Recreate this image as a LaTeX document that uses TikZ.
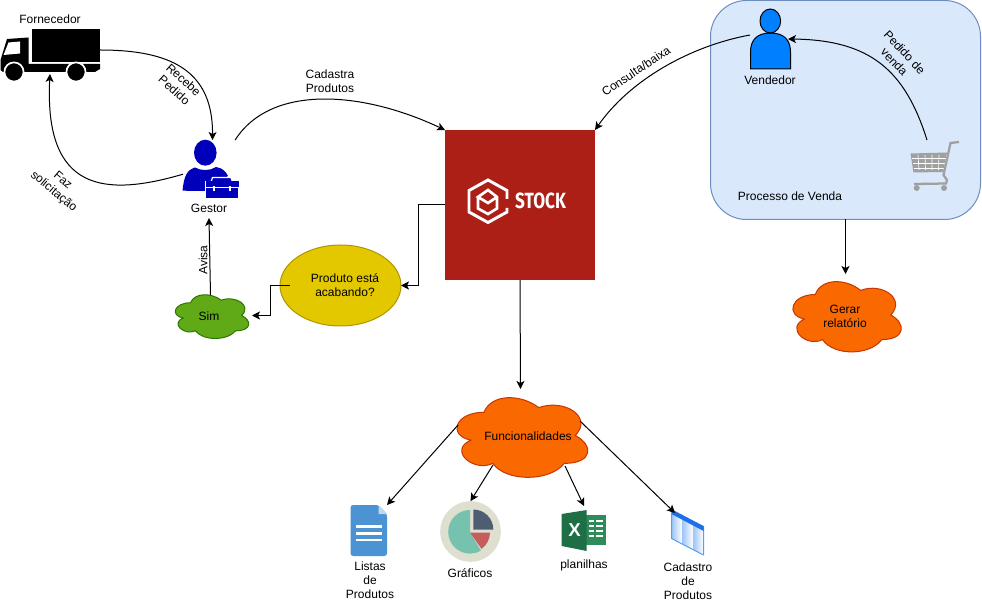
\documentclass[tikz,border=0pt]{standalone}
\usepackage{fontspec}
\setmainfont{Liberation Sans}
\newfontfamily\logofont{Fira Sans}
\usetikzlibrary{arrows.meta,shapes.geometric}

\definecolor{vendaFill}{HTML}{DAE8FC}
\definecolor{vendaLine}{HTML}{6C8EBF}
\definecolor{stockRed}{HTML}{AB1F16}
\definecolor{orangeFill}{HTML}{FA6800}
\definecolor{orangeLine}{HTML}{C73500}
\definecolor{greenFill}{HTML}{60A917}
\definecolor{greenLine}{HTML}{2D7600}
\definecolor{yellowFill}{HTML}{E3C800}
\definecolor{yellowLine}{HTML}{B09500}
\definecolor{gestorBlue}{HTML}{0000BB}
\definecolor{vendedorBlue}{HTML}{007FFF}
\definecolor{cartGray}{HTML}{A0A0A0}
\definecolor{docBlue}{HTML}{4B93D3}
\definecolor{xlDark}{HTML}{1E6F45}
\definecolor{xlLight}{HTML}{2E8B5A}
\definecolor{pieBack}{HTML}{DFDFD0}
\definecolor{pieTeal}{HTML}{76C2AF}
\definecolor{pieRed}{HTML}{C75C5C}
\definecolor{pieDark}{HTML}{4F5D73}
\definecolor{cadSide}{HTML}{9CC4F5}
\definecolor{cadLine}{HTML}{5C9CF0}
\definecolor{cadTop}{HTML}{1F6FE8}

\tikzset{
	spot/.style 2 args={minimum width=#1*0.75pt,minimum height=#2*0.75pt,inner sep=0pt,outer sep=0pt},
	txt/.style={inner sep=0pt,align=center,font=\fontsize{9}{10.5}\selectfont},
	flow/.style={->,>={Stealth[length=6pt,width=6pt,inset=1.5pt]},line width=0.75pt},
	orangeblob/.style={fill=orangeFill,draw=orangeLine,line width=0.75pt},
	greenblob/.style={fill=greenFill,draw=greenLine,line width=0.75pt}
}

% nome, x, y, largura, altura, estilo
\newcommand{\nuvem}[6]{
	\path[#6,shift={(#2,#3)},xscale=#4/100,yscale=#5/60] (25,15) .. controls (5,15) and (0,30) .. (16,33)
		.. controls (0,39.6) and (18,54) .. (31,48) .. controls (40,60) and (70,60) .. (80,48)
		.. controls (100,48) and (100,36) .. (87.5,30) .. controls (100,18) and (80,6) .. (62.5,12)
		.. controls (50,3) and (30,3) .. (25,15) -- cycle;
	\node[spot={#4}{#5}] (#1) at ({#2+#4/2},{#3+#5/2}) {};
}

\begin{document}
\begin{tikzpicture}[x=0.75pt,y=-0.75pt]
	\useasboundingbox (0,0) rectangle (982,602);
	% processo de venda
	\node[spot={270}{219},fill=vendaFill,draw=vendaLine,line width=0.75pt,rounded corners=27pt] (venda) at (845.5,110) {};
	\node[txt] (vendaTxt) at (790,196) {Processo de Venda};

	% caminhao
	\node[spot={100}{48}] (truck) at (50,50) {};
	\fill (32,29) rectangle (99.5,62);
	\fill (0.5,60) -- (7,39) -- (28.5,37.5) -- (28.5,64) -- (100,64) -- (100,69) -- (95,72) -- (3,72) -- (0.5,70) -- cycle;
	\fill[white] (3.5,55) -- (8.5,42.5) -- (20,41.5) -- (20,53.5) -- cycle;
	\draw[white,line width=1.3pt,fill=black] (14,72) circle (9.6);
	\draw[white,line width=1.3pt,fill=black] (76,72) circle (9.6);
	\node[txt] (truckTxt) at (50,19) {Fornecedor};

	% gestor
	\node[spot={59}{58}] (gestor) at (212.5,169) {};
	\fill[gestorBlue] (205.3,152.7) ellipse (11.3 and 13);
	\fill[gestorBlue] (182.5,190.7) .. controls (184,176) and (187,170) .. (195,167.5) .. controls (201,171) and (210,171) .. (216,167)
		.. controls (223,168) and (226,172) .. (228,176) -- (205,191) -- cycle;
	\draw[white,line width=0.9pt,fill=gestorBlue] (205.5,181.5) rectangle (239,198.5);
	\draw[white,line width=0.9pt,fill=gestorBlue] (211,182) -- (212.5,177.5) -- (231,177.5) -- (232.5,182) -- cycle;
	\fill[gestorBlue] (215,179.5) rectangle (229,182);
	\fill[gestorBlue] (206,181) rectangle (238.5,187);
	\fill[white] (206,187.5) rectangle (238.5,188.5);
	\fill[white] (213,186) rectangle (215,191);
	\fill[white] (229,186) rectangle (231,191);
	\node[txt] (gestorTxt) at (209,208) {Gestor};

	% stock
	\node[spot={150}{150},fill=stockRed] (stock) at (520,205) {};
	\draw[white,line width=2.2pt,line join=miter] (507,208) -- (507,212) -- (488,222.5) -- (469,212) -- (469,190.5) -- (488,180) -- (507,190.5) -- (507,199);
	\draw[white,line width=2pt,line join=miter] (478,197) -- (478,208.5) -- (488,214) -- (497,208.5) -- (497,197) -- (488,190) -- (478,197) -- (488,203) -- (497,197);
	\node[txt,white,font=\logofont\bfseries\fontsize{16.5}{18}\selectfont,xscale=0.78] (stockTxt) at (540.5,200.5) {STOCK};

	% vendedor
	\node[spot={41}{69}] (vendedor) at (770.5,35) {};
	\draw[fill=vendedorBlue,line width=0.75pt] (750.5,69) -- (750.5,52) .. controls (750.5,40) and (757,33) .. (770.5,33) .. controls (784,33) and (790.5,40) .. (790.5,52) -- (790.5,69) -- cycle;
	\draw[fill=vendedorBlue,line width=0.75pt] (770.3,21) ellipse (10.3 and 12);
	\node[txt] (vendedorTxt) at (770,80) {Vendedor};

	% carrinho
	\node[spot={50}{50}] (carrinho) at (927,165) {};
	\fill[cartGray] (910.5,153.5) -- (947,152.5) -- (943,172) -- (913.5,172.5) -- cycle;
	\draw[white,line width=0.5pt] (912,158) -- (945.5,158) (913,163) -- (944.5,163) (914,168) -- (943.5,168);
	\draw[white,line width=0.5pt] (918,155) -- (919,170) (925,155) -- (925.5,170) (932,155) -- (932,170) (939,155) -- (938.5,170);
	\draw[cartGray,line width=1.7pt] (959,142) -- (950.5,143) -- (943.5,175) -- (947,180) -- (946,183.5) -- (914,184);
	\fill[cartGray] (916.7,188) circle (3) (944,188) circle (3);

	% produto esta acabando
	\node[spot={121}{81},ellipse,fill=yellowFill,draw=yellowLine,line width=0.75pt] (produto) at (340.5,285.5) {};
	\node[txt] (produtoTxt) at (345,285.5) {Produto está\\acabando?};

	% nuvens
	\nuvem{sim}{170}{290}{82}{51}{greenblob}
	\node[txt] (simTxt) at (209,316) {Sim};
	\nuvem{funcoes}{447.5}{389}{146}{93}{orangeblob}
	\node[txt] (funcoesTxt) at (528,436) {Funcionalidades};
	\nuvem{gerar}{785}{274}{121}{82}{orangeblob}
	\node[txt] (gerarTxt) at (845,316) {Gerar\\relatório};

	% listas
	\node[spot={37}{51}] (listas) at (368.5,530.5) {};
	\fill[docBlue,rounded corners=2pt] (350.5,505) -- (378.5,505) -- (387,514) -- (387,556) -- (350.5,556) -- cycle;
	\fill[docBlue!35!white] (378.5,505) -- (387,514) -- (378.5,514) -- cycle;
	\draw[white,line width=2pt] (356,526.7) -- (381.7,526.7) (356,533.3) -- (381.7,533.3) (356,540) -- (381.7,540);
	\node[txt] (listasTxt) at (370,580.5) {Listas\\de\\Produtos};

	% graficos
	\node[spot={60.6}{60.6},circle,fill=pieBack] (graficos) at (470.5,531.5) {};
	\fill[pieTeal] (470,532) -- (470,510) arc[start angle=-90,end angle=-300,radius=21.8] -- cycle;
	\fill[pieRed] (470,532.5) -- (490,532.5) arc[start angle=0,end angle=55,radius=20] -- cycle;
	\fill[pieDark] (473.3,529.5) -- (473.3,509.5) arc[start angle=-90,end angle=0,radius=20] -- cycle;
	\node[txt] (graficosTxt) at (470,572.7) {Gráficos};

	% planilhas
	\node[spot={44}{46}] (planilhas) at (584,529) {};
	\fill[xlLight] (586,515) rectangle (606,545);
	\fill[xlDark] (561.7,514) -- (586.7,510) -- (586.7,551) -- (561.7,546) -- cycle;
	\draw[white,line width=1.4pt] (589,521) -- (594,521) (596,521) -- (603,521) (589,526) -- (594,526) (596,526) -- (603,526)
		(589,531) -- (594,531) (596,531) -- (603,531) (589,536) -- (594,536) (596,536) -- (603,536);
	\node[txt,white,font=\bfseries\fontsize{14}{14}\selectfont] (xlTxt) at (574.5,530) {X};
	\node[txt] (planilhasTxt) at (584,565) {planilhas};

	% cadastro
	\node[spot={33}{46}] (cadastro) at (688,533) {};
	\shade[left color=cadSide,right color=white] (671.5,512) -- (682,517.5) -- (682,544) -- (671.5,538.5) -- cycle;
	\shade[left color=cadSide,right color=white] (682,517.5) -- (693,523) -- (693,549.5) -- (682,544) -- cycle;
	\shade[left color=cadSide,right color=white] (693,523) -- (703.5,528) -- (703.5,555) -- (693,549.5) -- cycle;
	\draw[cadLine,line width=0.75pt,line join=round] (671.5,512) -- (671.5,538.5) -- (703.5,555) -- (703.5,526);
	\fill[cadTop] (673,510) -- (703.5,526) -- (703.5,531) -- (671.5,514) -- cycle;
	\node[txt] (cadastroTxt) at (688,581) {Cadastro\\de\\Produtos};

	% ligacoes
	\coordinate (produtoOut) at (290,285.5);
	\coordinate (funcoesL) at (458,425);
	\coordinate (funcoesG) at (493,465);
	\coordinate (funcoesP) at (565,466);
	\coordinate (funcoesC) at (580,421);
	\coordinate (cadastroIn) at (675,513);
	\coordinate (simOut) at (210.5,295);
	\coordinate (gestorIn) at (209,218);
	\coordinate (stockTurn) at (418,205);
	\coordinate (produtoTurn) at (270,315.5);
	\coordinate (vendedorIn) at (788,39);
	\draw[flow] (truck.east) .. controls (170,50) and (213,70) .. (gestor.north);
	\draw[flow] (gestor.190) .. controls (105,197) and (44,192) .. (truck.south);
	\draw[flow] (gestor.52) .. controls (270,85) and (360,90) .. (stock.north west);
	\draw[flow] (vendedor.west) .. controls (690,46) and (630,80) .. (stock.north east);
	\draw[flow] (carrinho.north) .. controls (905,70) and (870,40) .. (vendedorIn);
	\draw[flow] (stock.west) -- (stockTurn) |- (produto.east);
	\draw[flow] (produtoOut) -| (produtoTurn) -- (sim.east);
	\draw[flow] (simOut) -- (gestorIn);
	\draw[flow] (stock.south) -- (funcoes.north);
	\draw[flow] (gerar.north |- venda.south) -- (gerar.north);
	\draw[flow] (funcoesL) -- (listas.north east);
	\draw[flow] (funcoesG) -- (graficos.north);
	\draw[flow] (funcoesP) -- (planilhas.north);
	\draw[flow] (funcoesC) -- (cadastroIn);

	% rotulos
	\node[txt,rotate=-42] (recebeTxt) at (179,85) {Recebe\\Pedido};
	\node[txt,rotate=-40] (fazTxt) at (58,186.5) {Faz\\solicitação};
	\node[txt] (cadastraTxt) at (330,81) {Cadastra\\Produtos};
	\node[txt,rotate=34] (consultaTxt) at (636,71) {Consulta/baixa};
	\node[txt,rotate=-47] (pedidoTxt) at (899.5,57) {Pedido de\\venda};
	\node[txt,rotate=90] (avisaTxt) at (203,260) {Avisa};
\end{tikzpicture}
\end{document}
